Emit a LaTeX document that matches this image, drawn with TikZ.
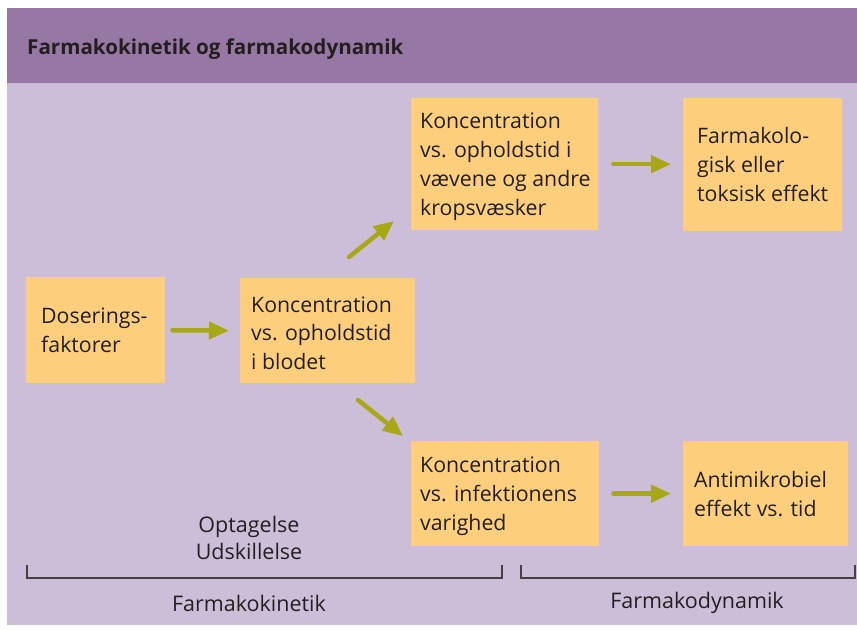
\documentclass[tikz,border=0pt]{standalone}
\usepackage{fontspec}
\setmainfont{Open Sans}
\usetikzlibrary{arrows.meta,calc}
\definecolor{hdr}{HTML}{9777A3}
\definecolor{bodyc}{HTML}{CCBED8}
\definecolor{boxc}{HTML}{FDCF7D}
\definecolor{arr}{HTML}{A8A716}
\definecolor{txt}{HTML}{231F20}
\tikzset{
  boxbg/.style={fill=boxc, draw=none, anchor=north west, inner sep=0pt},
  boxtxt/.style={anchor=west, align=left, inner sep=0pt, text=txt, font=\fontsize{21.3}{28.8}\selectfont},
  flow/.style={draw=arr, line width=4.5pt, line cap=round, -{Triangle[length=20pt,width=17pt]}},
  lbl/.style={align=center, inner sep=0pt, text=txt, font=\fontsize{21.5}{27.5}\selectfont},
  brk/.style={draw=txt!85, line width=1.1pt}
}
\begin{document}
\begin{tikzpicture}[x=1pt,y=-1pt]
\useasboundingbox (0,0) rectangle (857,630);
\fill[white] (0,0) rectangle (857,630);
\fill[hdr] (7,8) rectangle (857,83);
\fill[bodyc] (7,83) rectangle (857,625);
\node[anchor=west, inner sep=0pt, text=txt, font=\fontsize{20.6}{24}\selectfont\bfseries] (title) at (27,49) {Farmakokinetik og farmakodynamik};

% boxes
\node[boxbg, minimum width=139, minimum height=106] (dos) at (26,277) {};
\node[boxbg, minimum width=175, minimum height=105] (blod) at (240,278) {};
\node[boxbg, minimum width=187, minimum height=132] (vaev) at (411,98) {};
\node[boxbg, minimum width=159, minimum height=133] (farm) at (683,98) {};
\node[boxbg, minimum width=188, minimum height=105] (inf) at (411,441) {};
\node[boxbg, minimum width=165, minimum height=105] (anti) at (683,441) {};

% box texts
\node[boxtxt] (dost) at ([xshift=15]dos.west) {Doserings-\\faktorer};
\node[boxtxt] (blodt) at ([xshift=11,yshift=-2.5]blod.west) {Koncentration\\vs. opholdstid\\i blodet};
\node[boxtxt] (vaevt) at ([xshift=9,yshift=-2.5]vaev.west) {Koncentration\\vs. opholdstid i\\vævene og andre\\kropsvæsker};
\node[boxtxt] (farmt) at ([xshift=14]farm.west) {Farmakolo-\\gisk eller\\toksisk effekt};
\node[boxtxt] (inft) at ([xshift=9,yshift=-2.5]inf.west) {Koncentration\\vs. infektionens\\varighed};
\node[boxtxt] (antit) at ([xshift=11]anti.west) {Antimikrobiel\\effekt vs. tid};

% arrows
\draw[flow, shorten <=7pt, shorten >=11pt] (dos.east) -- (blod.west);
\draw[flow, shorten <=15pt, shorten >=12pt] (vaev.east) -- (farm.west |- vaev.east);
\draw[flow, shorten <=14pt, shorten >=12pt] (inf.east) -- (anti.west |- inf.east);
\coordinate (d1s) at (349,257);
\coordinate (d1e) at (394,221);
\coordinate (d2s) at (358,400);
\coordinate (d2e) at (403,436);
\draw[flow] (d1s) -- (d1e);
\draw[flow] (d2s) -- (d2e);

% bottom labels and brackets
\node[lbl] (opt) at (249,538) {Optagelse\\Udskillelse};
\draw[brk] (27,565) -- (27,578) -- (502,578) -- (502,565);
\draw[brk] (521,565) -- (521,578) -- (855,578) -- (855,565);
\node[lbl] (kin) at (249,603) {Farmakokinetik};
\node[lbl] (dyn) at (697,603) {Farmakodynamik};
\end{tikzpicture}
\end{document}
